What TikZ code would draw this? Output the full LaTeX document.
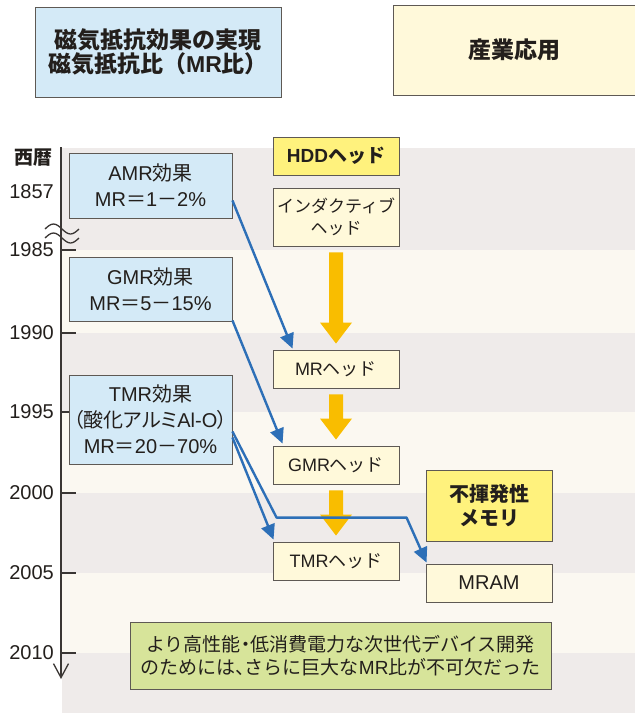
\documentclass[tikz,border=0pt]{standalone}
\usepackage{fontspec}
\setmainfont{Liberation Sans}
\newfontfamily\jp{Noto Sans CJK JP}
\newfontfamily\jpp[RawFeature=+palt]{Noto Sans CJK JP}
\usetikzlibrary{arrows.meta,calc}
\definecolor{bandgray}{HTML}{EFEBEA}
\definecolor{bandcream}{HTML}{FBF8F1}
\definecolor{bluebox}{HTML}{D4EAF7}
\definecolor{creambox}{HTML}{FFF9DA}
\definecolor{yelbox}{HTML}{FFF27D}
\definecolor{greenbox}{HTML}{D7E49A}
\definecolor{bluearr}{HTML}{2D6FB7}
\definecolor{orarr}{HTML}{F9BD00}
\definecolor{bordc}{HTML}{5E5954}
\definecolor{axisc}{HTML}{3A3634}
\definecolor{txt}{HTML}{231F1C}
\newcommand\orarrow[2]{%
  \fill[orarr] ($(#1.south)+(-7,6)$) -- ($(#2.north)+(-7,-27)$) -- ($(#2.north)+(-16,-27)$)
    -- ($(#2.north)+(0,-6)$) -- ($(#2.north)+(16,-27)$) -- ($(#2.north)+(7,-27)$)
    -- ($(#1.south)+(7,6)$) -- cycle;}
\tikzset{
  box/.style={draw=bordc, line width=0.9pt, inner sep=0pt, align=center, text=txt},
  hdrbox/.style={box, minimum height=90pt, font=\fontsize{23}{24}\selectfont\bfseries},
  effbox/.style={box, fill=bluebox, minimum width=163pt, font=\fontsize{20}{26}\selectfont},
  headbox/.style={box, fill=creambox, minimum width=126pt, minimum height=38pt, font=\fontsize{18}{22}\selectfont},
  yelbx/.style={box, fill=yelbox, minimum width=126pt, font=\fontsize{19}{24}\selectfont\bfseries},
  year/.style={anchor=east, text=txt, inner sep=0pt, font=\fontsize{20}{24}\selectfont},
  tick/.style={draw=axisc, line width=1.2pt},
  bluec/.style={draw=bluearr, line width=2.4pt, line join=round, -{Triangle[length=15pt,width=14pt]}},
}
\begin{document}
\begin{tikzpicture}[x=1pt,y=-1pt]
\useasboundingbox (0,0) rectangle (635,713);
% bands
\fill[bandgray]  (61.5,148) rectangle (640,250);
\fill[bandcream] (61.5,250) rectangle (640,333);
\fill[bandgray]  (61.5,333) rectangle (640,412);
\fill[bandcream] (61.5,412) rectangle (640,493);
\fill[bandgray]  (61.5,493) rectangle (640,573);
\fill[bandcream] (61.5,573) rectangle (640,653);
\fill[bandgray]  (61.5,653) rectangle (640,720);
% headers
\node[hdrbox, fill=bluebox, minimum width=246pt] (hdrA) at (158,52)
  {{\jp\bfseries 磁気抵抗効果の実現}\\{\jp\bfseries 磁気抵抗比（}MR{\jp\bfseries 比）}};
\node[hdrbox, fill=creambox, minimum width=243pt] (hdrB) at (514.5,50) {{\jp\bfseries 産業応用}};
% axis
\coordinate (axtop) at (61,147);
\coordinate (axbot) at (61,679);
\draw[axisc, line width=1.3pt, -{Straight Barb[length=14pt,width=15pt,line width=1.3pt]}] (axtop) -- (axbot);
\node[text=txt, inner sep=0pt, font=\fontsize{19}{22}\selectfont] (seireki) at (33,158) {{\jp\bfseries 西暦}};
\node[year] (y1857) at (54,192) {1857};
\foreach \yy/\lab in {250/1985,333/1990,412/1995,493/2000,573/2005,653/2010}{
  \draw[tick] (61,\yy) -- (76,\yy);
  \node[year] (y\lab) at (54,\yy) {\lab};
}
% wave break
\draw[axisc, line width=1.3pt] (45,229) sin (53.5,224) cos (62,229) sin (70.5,234) cos (79,229);
\draw[axisc, line width=1.3pt] (45,238) sin (53.5,233) cos (62,238) sin (70.5,243) cos (79,238);
% effect boxes
\node[effbox, minimum height=65pt] (AMR) at (150.5,185.5) {AMR{\jp 効果}\\MR{\jp ＝}1{\jp －}2\%};
\node[effbox, minimum height=64pt] (GMR) at (150.5,289) {GMR{\jp 効果}\\MR{\jp ＝}5{\jp －}15\%};
\node[effbox, minimum height=89pt] (TMR) at (150.5,419.5) {TMR{\jp 効果}\\{\jpp （酸化アルミ}Al-O{\jpp ）}\\MR{\jp ＝}20{\jp －}70\%};
% head boxes
\node[yelbx, minimum height=38pt] (HDD) at (336,156) {HDD{\jp\bfseries ヘッド}};
\node[headbox, minimum height=58pt, font=\fontsize{17}{22}\selectfont] (IND) at (336,217) {{\jp インダクティブ}\\{\jp ヘッド}};
\node[headbox] (MRh) at (336,369) {MR{\jp ヘッド}};
\node[headbox] (GMRh) at (336,465) {GMR{\jp ヘッド}};
\node[headbox] (TMRh) at (336,561) {TMR{\jp ヘッド}};
\node[yelbx, minimum height=71pt, font=\fontsize{20}{24}\selectfont] (NV) at (489,505.5) {{\jp\bfseries 不揮発性}\\{\jp\bfseries メモリ}};
\node[headbox, font=\fontsize{20}{24}\selectfont] (MRAM) at (489,583) {MRAM};
\node[box, fill=greenbox, minimum width=421pt, minimum height=67pt, font=\fontsize{19}{23}\selectfont] (note) at (340.5,655.5)
  {{\jp より高性能}{\jpp ・}{\jp 低消費電力な次世代デバイス開発}\\{\jp のためには}{\jpp 、}{\jp さらに巨大な}MR{\jp 比が不可欠だった}};
% orange arrows
\orarrow{IND}{MRh}
\orarrow{MRh}{GMRh}
\orarrow{GMRh}{TMRh}
% blue arrows
\draw[bluec] ($(AMR.south east)+(0,-18)$) -- ($(MRh.north west)+(20,-1)$);
\draw[bluec] ($(GMR.south east)+(0,-1)$) -- ($(GMRh.north west)+(10,-2)$);
\draw[bluec] ($(TMR.east)+(0,18)$) -- ($(TMRh.north west)+(1,-2)$);
\draw[bluec] ($(TMR.east)+(0,12)$) -- ($(TMRh.north west)+(4,-24)$) -- ($(MRAM.north west)+(-19,-46)$) -- ($(MRAM.north west)+(1,-1)$);
\end{tikzpicture}
\end{document}
